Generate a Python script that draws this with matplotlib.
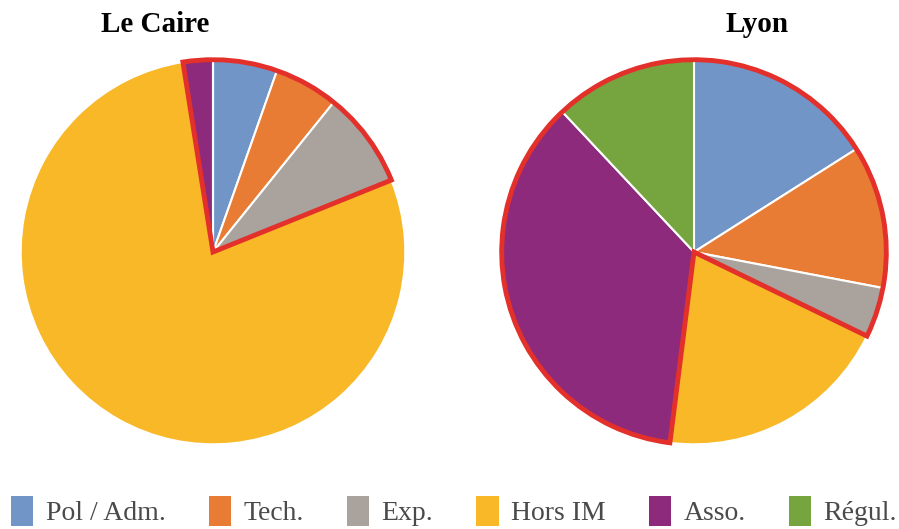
import matplotlib
matplotlib.use('Agg')
import matplotlib.pyplot as plt
from matplotlib.patches import Wedge, Patch

# categories and shares (%)
categories = ['Pol / Adm.', 'Tech.', 'Exp.', 'Hors IM', 'Asso.', 'Régul.']
colors = ['#7195C7', '#E97C35', '#A9A29D', '#F8B828', '#8E2A7C', '#76A43F']
caire = [5.4, 5.4, 8.1, 78.6, 2.5, 0.0]
lyon = [16.0, 12.0, 4.2, 19.8, 36.0, 12.0]
titles = ['Le Caire', 'Lyon']

plt.rcParams['font.family'] = ['Liberation Serif', 'DejaVu Serif']

fig = plt.figure(figsize=(8.99, 5.29), dpi=100)

# axes placed so the pies sit like in the reference
ax1 = fig.add_axes([(213 - 200) / 899, 77 / 529, 400 / 899, 400 / 529])
ax2 = fig.add_axes([(694 - 200) / 899, 77 / 529, 400 / 899, 400 / 529])


def draw_pie(ax, values, title, title_x):
    ax.pie(values, colors=colors, startangle=90, counterclock=False,
           wedgeprops=dict(edgecolor='white', linewidth=1.5))
    # red outline around everything that is not "Hors IM"
    idx = categories.index('Hors IM')
    total = sum(values)
    before = sum(values[:idx])
    t1 = 90 - 360 * before / total
    t2 = 90 - 360 * (before + values[idx]) / total
    ax.add_patch(Wedge((0, 0), 1, t1, t2 + 360, fill=False,
                       edgecolor='#E3302A', linewidth=3.5, joinstyle='miter'))
    ax.set_xlim(-1.04, 1.04)
    ax.set_ylim(-1.04, 1.04)
    ax.set_aspect('equal')
    ax.axis('off')
    fig.text(title_x, 1 - 24 / 529, title, ha='center', va='center',
             fontsize=21, fontweight='bold')


draw_pie(ax1, caire, titles[0], 155 / 899)
draw_pie(ax2, lyon, titles[1], 757 / 899)

handles = [Patch(facecolor=c, edgecolor='none') for c in colors]
fig.legend(handles, categories, loc='center', bbox_to_anchor=(0.505, 1 - 511 / 529),
           ncol=6, frameon=False, fontsize=20, handlelength=0.8, handleheight=1.3,
           handletextpad=0.45, columnspacing=1.55, labelcolor='#4a4a4a')

plt.savefig('out.png', dpi=100)
